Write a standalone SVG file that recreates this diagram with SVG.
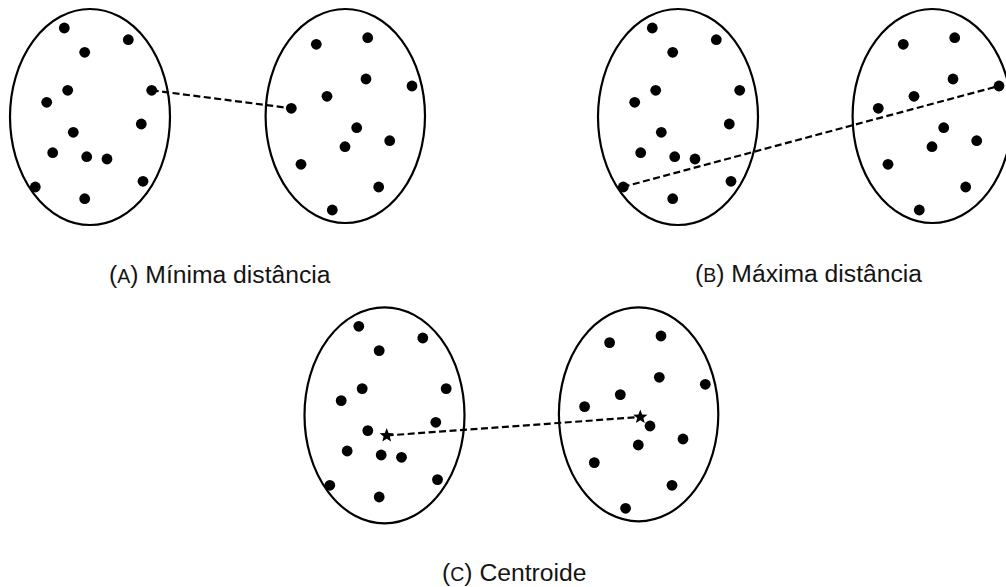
<svg xmlns="http://www.w3.org/2000/svg" xmlns:xlink="http://www.w3.org/1999/xlink" width="1006" height="587" viewBox="0 0 1006 587">
  <style>
    .cluster { fill: none; stroke: #000; stroke-width: 2.2; }
    .pt { fill: #000; }
    .link { fill: none; stroke: #000; stroke-width: 2.2; stroke-dasharray: 7 3.5; }
    .caption { font-family: "Liberation Sans", Arial, sans-serif; font-size: 24.7px; fill: #141414; }
    .sc { font-size: 19.5px; }
  </style>
  <defs>
    <!-- point set of the left cluster, local coordinates -->
    <g id="ptsLeft">
      <circle class="pt" cx="64.3" cy="28" r="5.4"/>
      <circle class="pt" cx="128.3" cy="39.7" r="5.4"/>
      <circle class="pt" cx="84.7" cy="52.3" r="5.4"/>
      <circle class="pt" cx="67.7" cy="90.3" r="5.4"/>
      <circle class="pt" cx="151.7" cy="90.3" r="5.4"/>
      <circle class="pt" cx="46.7" cy="102.3" r="5.4"/>
      <circle class="pt" cx="141.3" cy="124" r="5.4"/>
      <circle class="pt" cx="73.3" cy="132.3" r="5.4"/>
      <circle class="pt" cx="52.7" cy="152.7" r="5.4"/>
      <circle class="pt" cx="86.7" cy="156.7" r="5.4"/>
      <circle class="pt" cx="107" cy="159" r="5.4"/>
      <circle class="pt" cx="35.3" cy="187" r="5.4"/>
      <circle class="pt" cx="143" cy="181.3" r="5.4"/>
      <circle class="pt" cx="84.7" cy="198.7" r="5.4"/>
    </g>
    <!-- point set of the right cluster, local coordinates -->
    <g id="ptsRight">
      <circle class="pt" cx="316.3" cy="44.3" r="5.4"/>
      <circle class="pt" cx="367.7" cy="37.7" r="5.4"/>
      <circle class="pt" cx="366" cy="79" r="5.4"/>
      <circle class="pt" cx="412" cy="86" r="5.4"/>
      <circle class="pt" cx="327" cy="96.3" r="5.4"/>
      <circle class="pt" cx="291.3" cy="108.3" r="5.4"/>
      <circle class="pt" cx="356.7" cy="127.7" r="5.4"/>
      <circle class="pt" cx="389.7" cy="140.7" r="5.4"/>
      <circle class="pt" cx="345" cy="146.7" r="5.4"/>
      <circle class="pt" cx="301" cy="164.3" r="5.4"/>
      <circle class="pt" cx="378.7" cy="187" r="5.4"/>
      <circle class="pt" cx="332.3" cy="210" r="5.4"/>
    </g>
    <path id="star" d="M0,-7.5 L1.9,-2.6 L7.1,-2.3 L3.1,1 L4.4,6.1 L0,3.2 L-4.4,6.1 L-3.1,1 L-7.1,-2.3 L-1.9,-2.6 Z" fill="#000"/>
  </defs>

  <!-- (A) single linkage -->
  <g id="a-left">
    <ellipse class="cluster" cx="90" cy="117" rx="80" ry="108"/>
    <use xlink:href="#ptsLeft"/>
  </g>
  <g id="a-right">
    <ellipse class="cluster" cx="345.3" cy="116" rx="79.7" ry="107"/>
    <use xlink:href="#ptsRight"/>
  </g>

  <!-- (B) complete linkage -->
  <g id="b-left" transform="translate(588,0)">
    <ellipse class="cluster" cx="90" cy="117" rx="80" ry="108"/>
    <use xlink:href="#ptsLeft"/>
  </g>
  <g id="b-right" transform="translate(587,0)">
    <ellipse class="cluster" cx="345.3" cy="116" rx="79.7" ry="107"/>
    <use xlink:href="#ptsRight"/>
  </g>

  <!-- (C) centroid linkage -->
  <g id="c-left" transform="translate(294.5,298.3)">
    <ellipse class="cluster" cx="90" cy="117" rx="80" ry="108"/>
    <use xlink:href="#ptsLeft"/>
  </g>
  <g id="c-right" transform="translate(293.3,298.3)">
    <ellipse class="cluster" cx="345.3" cy="116" rx="79.7" ry="107"/>
    <use xlink:href="#ptsRight"/>
  </g>

  <g id="connectors">
    <line class="link" x1="151.7" y1="90.3" x2="291.3" y2="108.3"/>
    <line class="link" x1="622.7" y1="187" x2="998.7" y2="86"/>
    <line class="link" x1="386.7" y1="435.5" x2="640.3" y2="417"/>
    <use xlink:href="#star" x="386.7" y="435.5"/>
    <use xlink:href="#star" x="640.3" y="417"/>
  </g>

  <g id="captions">
    <text class="caption" x="109" y="283">(<tspan class="sc">A</tspan>) Mínima distância</text>
    <text class="caption" x="695" y="282">(<tspan class="sc">B</tspan>) Máxima distância</text>
    <text class="caption" x="442" y="581">(<tspan class="sc">C</tspan>) Centroide</text>
  </g>
</svg>
